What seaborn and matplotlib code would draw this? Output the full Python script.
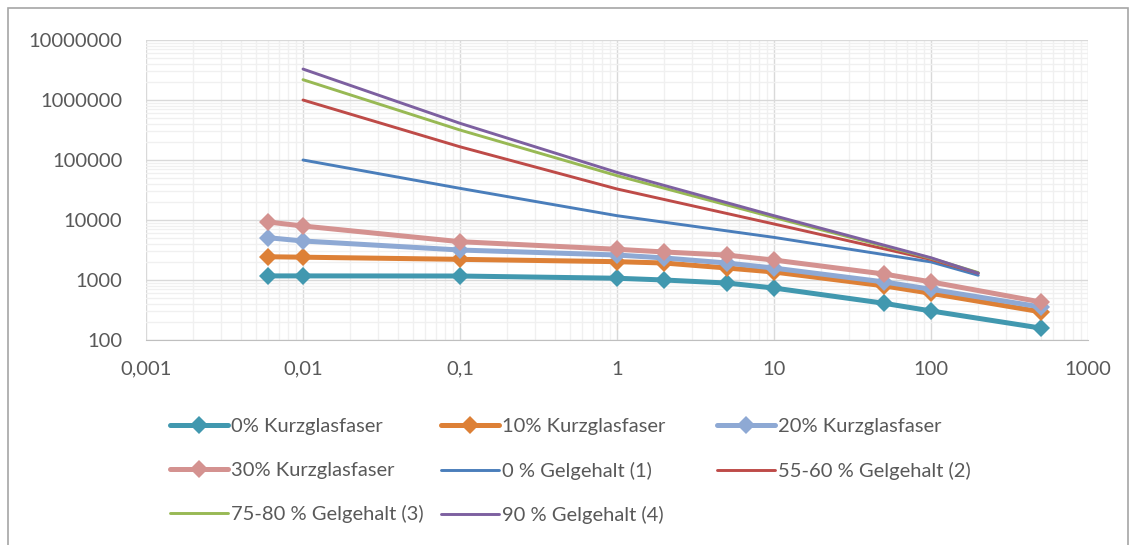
import matplotlib
matplotlib.use("Agg")
import matplotlib.pyplot as plt
import seaborn as sns
from matplotlib.ticker import LogLocator, FuncFormatter, NullFormatter
from matplotlib.patches import Rectangle

# ---------------- Daten ----------------
x_faser = [0.006, 0.01, 0.1, 1, 2, 5, 10, 50, 100, 500]
faser_0 = [1170, 1170, 1165, 1070, 1000, 890, 735, 410, 305, 158]
faser_10 = [2440, 2400, 2210, 2020, 1920, 1585, 1360, 800, 600, 295]
faser_20 = [5070, 4470, 3160, 2610, 2330, 1920, 1580, 930, 700, 355]
faser_30 = [9260, 7940, 4350, 3250, 2930, 2600, 2150, 1260, 930, 430]

x_gel = [0.01, 0.1, 1, 10, 100, 200]
gel_1 = [100000, 33700, 11800, 5130, 2000, 1200]
gel_2 = [1000000, 166000, 32900, 8580, 2200, 1300]
gel_3 = [2180000, 316000, 54800, 11000, 2300, 1330]
gel_4 = [3280000, 409000, 62100, 11800, 2350, 1300]

faser_labels = ["0% Kurzglasfaser", "10% Kurzglasfaser", "20% Kurzglasfaser", "30% Kurzglasfaser"]
gel_labels = ["0 % Gelgehalt (1)", "55-60 % Gelgehalt (2)", "75-80 % Gelgehalt (3)", "90 % Gelgehalt (4)"]

x_ticks = [0.001, 0.01, 0.1, 1, 10, 100, 1000]
x_ticklabels = ["0,001", "0,01", "0,1", "1", "10", "100", "1000"]
y_ticks = [100, 1000, 10000, 100000, 1000000, 10000000]

# ---------------- Stil ----------------
sns.set_style("white")
plt.rcParams["font.family"] = ["Lato", "DejaVu Sans"]
txt_col = "#595959"

farben_faser = ["#4198AF", "#DD8036", "#8EA9D4", "#D49290"]
farben_gel = ["#4A7EBB", "#BE4B48", "#98B954", "#7D60A0"]

fig = plt.figure(figsize=(11.35, 5.45), dpi=100)
ax = fig.add_axes([146 / 1135, 1 - 340 / 545, (1088 - 146) / 1135, 300 / 545])

for ys, lab, c in zip([faser_0, faser_10, faser_20, faser_30], faser_labels, farben_faser):
    sns.lineplot(x=x_faser, y=ys, ax=ax, color=c, linewidth=3.6, marker="D",
                 markersize=9.5, markeredgewidth=0, label=lab)

for ys, lab, c in zip([gel_1, gel_2, gel_3, gel_4], gel_labels, farben_gel):
    sns.lineplot(x=x_gel, y=ys, ax=ax, color=c, linewidth=2.1, label=lab)

ax.set_xscale("log")
ax.set_yscale("log")
ax.set_xlim(0.001, 1000)
ax.set_ylim(100, 10000000)

ax.set_xticks(x_ticks)
ax.xaxis.set_major_formatter(FuncFormatter(lambda v, p: dict(zip(x_ticks, x_ticklabels)).get(v, "")))
ax.set_yticks(y_ticks)
ax.yaxis.set_major_formatter(FuncFormatter(lambda v, p: f"{int(round(v))}"))
ax.xaxis.set_minor_locator(LogLocator(base=10, subs=range(2, 10), numticks=20))
ax.yaxis.set_minor_locator(LogLocator(base=10, subs=range(2, 10), numticks=20))
ax.xaxis.set_minor_formatter(NullFormatter())
ax.yaxis.set_minor_formatter(NullFormatter())

ax.grid(which="minor", color="#f0f0f0", linewidth=1.0)
ax.grid(which="major", color="#d9d9d9", linewidth=1.0)
ax.set_axisbelow(True)
ax.tick_params(which="both", length=0, labelsize=14.5, colors=txt_col)
ax.tick_params(axis="x", pad=15)
ax.tick_params(axis="y", pad=17)
for s in ["top", "right", "left"]:
    ax.spines[s].set_visible(False)
ax.spines["bottom"].set_color("#bfbfbf")
ax.set_xlabel("")
ax.set_ylabel("")

# Legende zeilenweise wie in Excel: drei Spalten fester Breite
h, l = ax.get_legend_handles_labels()
ax.get_legend().remove()
spalten = [[0, 3, 6], [1, 4, 7], [2, 5]]
spalten_x = [170, 441, 717]
for idx, xs in zip(spalten, spalten_x):
    fig.legend([h[i] for i in idx], [l[i] for i in idx], ncol=1,
               loc="upper left", bbox_to_anchor=(xs / 1135, 1 - 418 / 545),
               frameon=False, fontsize=14.5, labelcolor=txt_col,
               handlelength=2.9, handletextpad=0.15,
               labelspacing=1.32, borderpad=0, borderaxespad=0)

# Rahmen des Diagrammbereichs
fig.patches.append(Rectangle((8 / 1135, -0.1), 1120 / 1135, 1.1 - 8 / 545,
                             transform=fig.transFigure, fill=False,
                             edgecolor="#a6a6a6", linewidth=1.2))

fig.savefig("out.png", dpi=100)
